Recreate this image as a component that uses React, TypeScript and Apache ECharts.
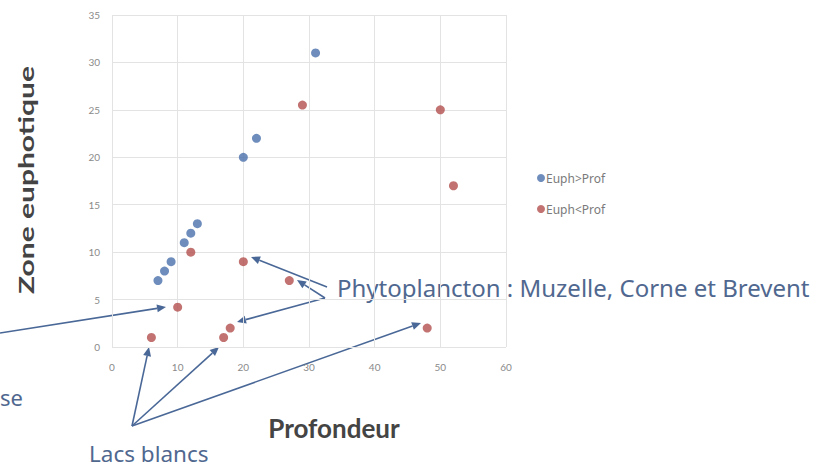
import React, { useEffect, useRef } from "react";
import * as echarts from "echarts";

const seriesNames = ["Euph>Prof", "Euph<Prof"];
const euphSupProf: number[][] = [
  [7, 7], [8, 8], [9, 9], [11, 11], [12, 12], [13, 13], [20, 20], [22, 22], [31, 31],
];
const euphInfProf: number[][] = [
  [6, 1], [10, 4.2], [12, 10], [17, 1], [18, 2], [20, 9], [27, 7], [29, 25.5], [48, 2], [50, 25], [52, 17],
];
const xTicks = { min: 0, max: 60, interval: 10 };
const yTicks = { min: 0, max: 35, interval: 5 };
const xName = "Profondeur";
const yName = "Zone euphotique";
const annotPhyto = "Phytoplancton : Muzelle, Corne et Brevent";
const annotLacs = "Lacs blancs";
const annotCut = "se";

const ARROW = "#4a6897";
const ANNOT = "#50688f";

function arrow(x1: number, y1: number, x2: number, y2: number) {
  const dx = x2 - x1, dy = y2 - y1;
  const len = Math.sqrt(dx * dx + dy * dy);
  const ux = dx / len, uy = dy / len;
  const hl = 9, hw = 4;
  const bx = x2 - ux * hl, by = y2 - uy * hl;
  return [
    {
      type: "line",
      shape: { x1, y1, x2: bx, y2: by },
      style: { stroke: ARROW, lineWidth: 1.6 },
      silent: true,
    },
    {
      type: "polygon",
      shape: {
        points: [
          [x2, y2],
          [bx - uy * hw, by + ux * hw],
          [bx + uy * hw, by - ux * hw],
        ],
      },
      style: { fill: ARROW },
      silent: true,
    },
  ];
}

export default function App() {
  const ref = useRef<HTMLDivElement>(null);
  useEffect(() => {
    if (!ref.current) return;
    const chart = echarts.init(ref.current, null, { renderer: "svg" });
    const tickStyle = { color: "#8a8a8a", fontSize: 10, fontFamily: "Lato" };
    const option: any = {
      animation: false,
      backgroundColor: "#ffffff",
      grid: { left: 112, right: 309, top: 15, bottom: 121 },
      xAxis: {
        type: "value",
        min: xTicks.min,
        max: xTicks.max,
        interval: xTicks.interval,
        axisLine: { show: false },
        axisTick: { show: false },
        axisLabel: { ...tickStyle, margin: 15 },
        splitLine: { lineStyle: { color: "#e3e3e3", width: 1 } },
      },
      yAxis: {
        type: "value",
        min: yTicks.min,
        max: yTicks.max,
        interval: yTicks.interval,
        axisLine: { show: false },
        axisTick: { show: false },
        axisLabel: { ...tickStyle, margin: 12 },
        splitLine: { lineStyle: { color: "#e3e3e3", width: 1 } },
      },
      legend: {
        orient: "vertical",
        left: 532,
        top: 167,
        itemGap: 19,
        itemWidth: 8,
        itemHeight: 8,
        icon: "circle",
        textStyle: { color: "#7a7a7a", fontSize: 12, fontFamily: "Noto Sans", padding: [0, 0, 0, -4] },
        data: seriesNames,
      },
      series: [
        {
          name: seriesNames[0],
          type: "scatter",
          symbolSize: 9,
          itemStyle: { color: "#4a70ab" },
          data: euphSupProf,
        },
        {
          name: seriesNames[1],
          type: "scatter",
          symbolSize: 9,
          itemStyle: { color: "#b24f4d" },
          data: euphInfProf,
        },
      ],
      graphic: [
        {
          type: "text",
          x: 334,
          y: 428,
          style: {
            text: xName,
            fill: "#444444",
            font: "bold 26px Lato",
            align: "center",
            verticalAlign: "middle",
          },
        },
        {
          type: "text",
          x: 26,
          y: 180,
          rotation: Math.PI / 2,
          scaleX: 1.5,
          style: {
            text: yName,
            fill: "#444444",
            font: "bold 20px Lato",
            align: "center",
            verticalAlign: "middle",
          },
        },
        {
          type: "text",
          x: 337,
          y: 287,
          style: {
            text: annotPhyto,
            fill: ANNOT,
            font: "24px 'Noto Sans'",
            align: "left",
            verticalAlign: "middle",
          },
        },
        {
          type: "text",
          x: 89,
          y: 453,
          style: {
            text: annotLacs,
            fill: ANNOT,
            font: "22.5px 'Noto Sans'",
            lineHeight: 22,
            align: "left",
            verticalAlign: "middle",
          },
        },
        {
          type: "text",
          x: 0,
          y: 397,
          style: {
            text: annotCut,
            fill: ANNOT,
            font: "22px 'Noto Sans'",
            align: "left",
            verticalAlign: "middle",
          },
        },
        ...arrow(327, 287, 251, 257),
        ...arrow(325, 298, 297, 280),
        ...arrow(325, 298, 237, 322),
        ...arrow(0, 333, 166, 307),
        ...arrow(132, 426, 149, 347),
        ...arrow(132, 426, 219, 347),
        ...arrow(132, 426, 421, 323),
      ],
    };
    chart.setOption(option);
    return () => chart.dispose();
  }, []);
  return (
    <div
      ref={ref}
      style={{ position: "fixed", left: 0, top: 0, width: 815, height: 468 }}
    />
  );
}
